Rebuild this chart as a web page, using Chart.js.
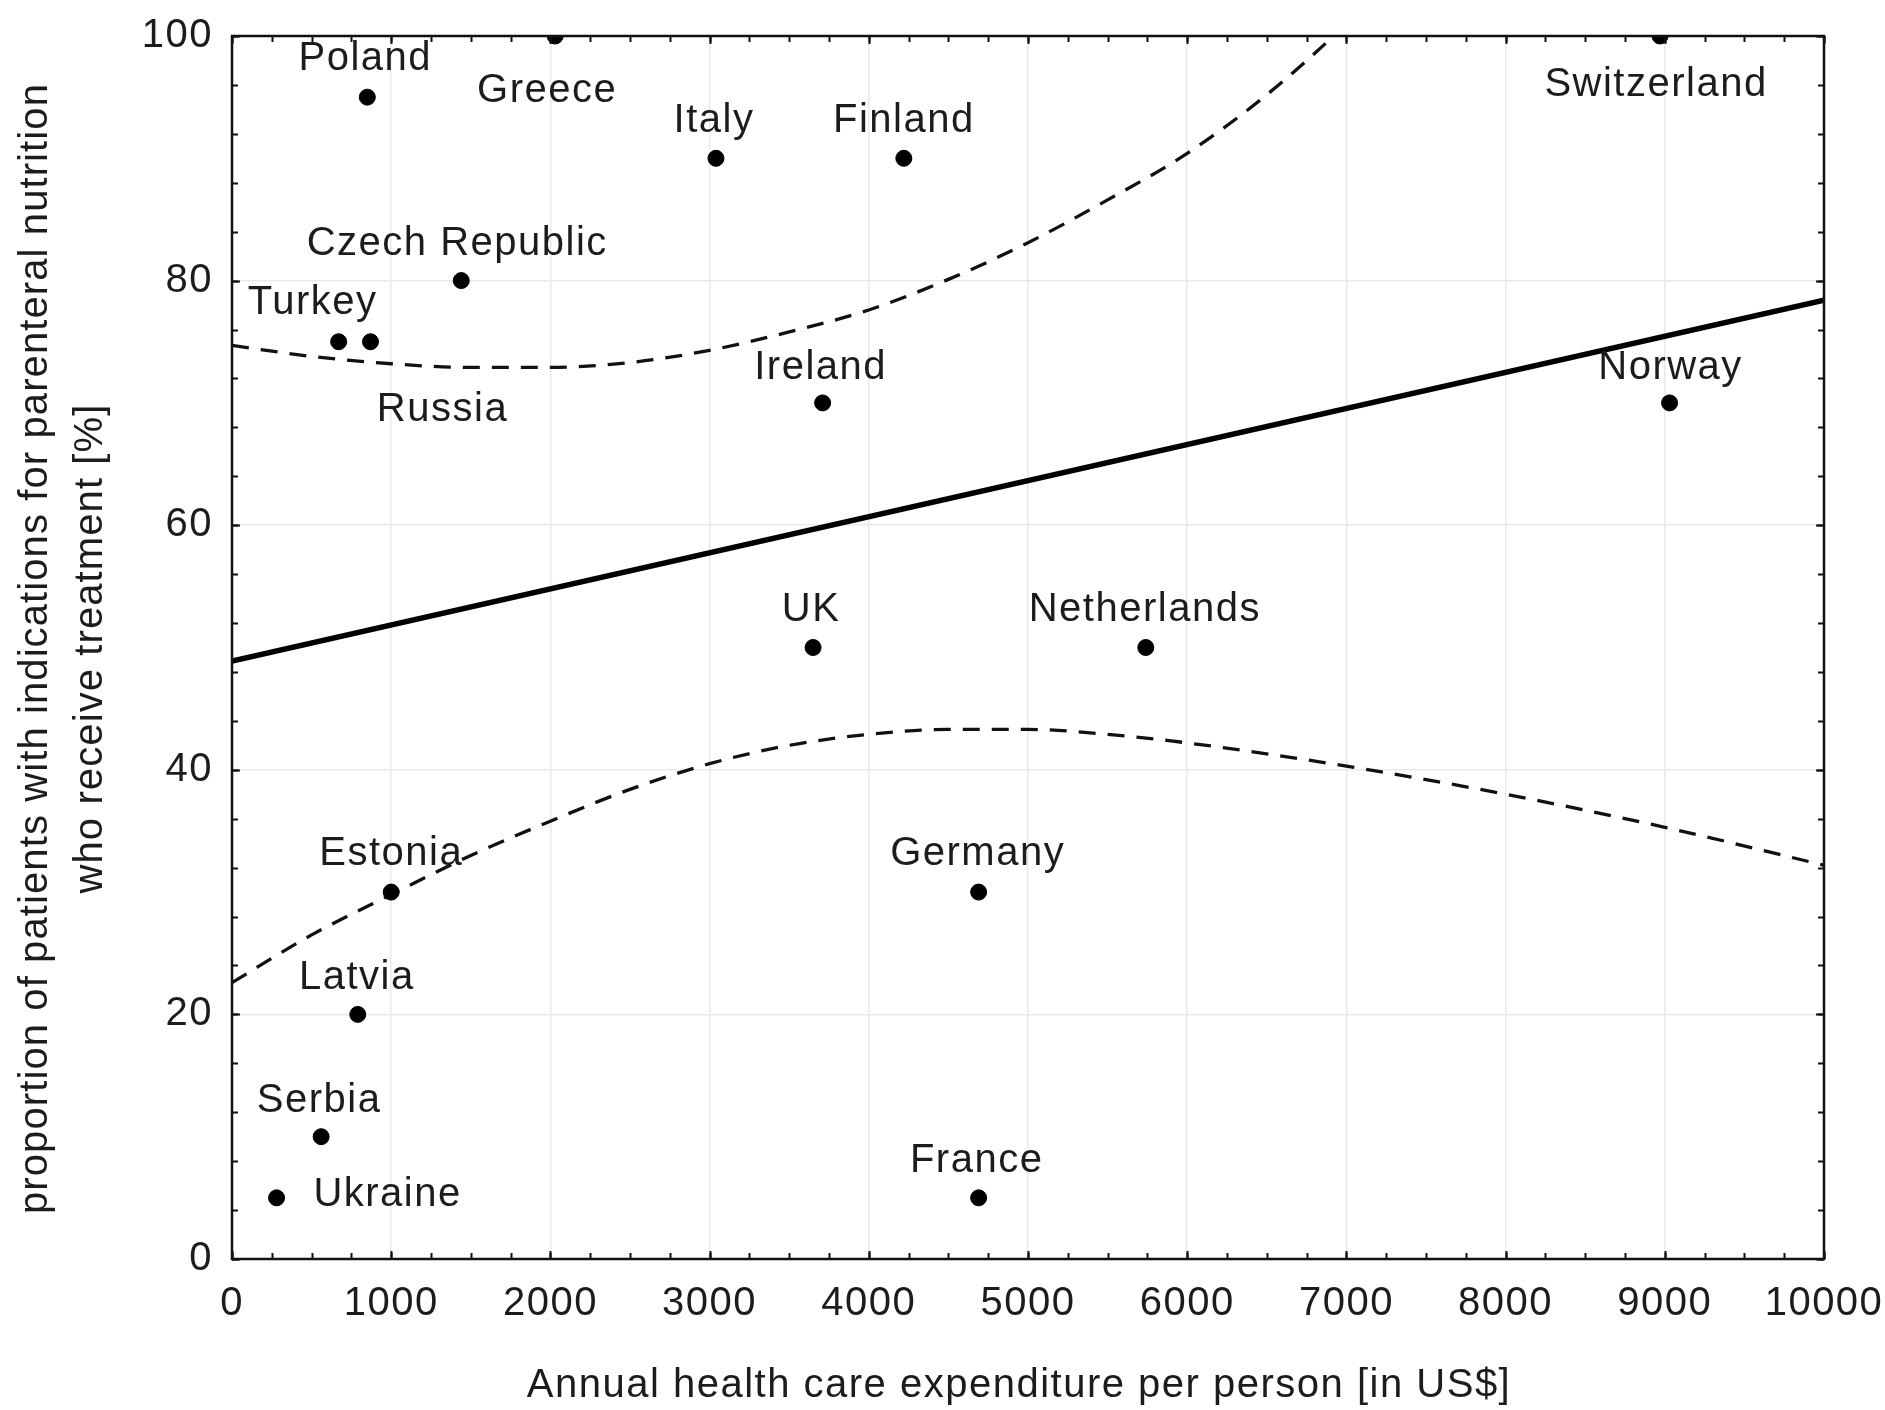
<!DOCTYPE html>
<html>
<head>
<meta charset="utf-8">
<title>Parenteral nutrition vs health care expenditure</title>
<script src="https://cdn.jsdelivr.net/npm/chart.js@4.4.1/dist/chart.umd.min.js"></script>
<style>
  html, body { margin: 0; padding: 0; background: #ffffff; }
  #wrap { width: 1885px; height: 1410px; }
</style>
</head>
<body>
<div id="wrap"><canvas id="chart" width="1885" height="1410"></canvas></div>
<script>
// Country observations
const countries = ['Poland', 'Greece', 'Italy', 'Finland', 'Switzerland', 'Czech Republic',
  'Turkey', 'Russia', 'Ireland', 'Norway', 'UK', 'Netherlands', 'Estonia', 'Germany',
  'Latvia', 'Serbia', 'Ukraine', 'France'];
const spending = [850, 2030, 3040, 4220, 8970, 1440, 670, 870, 3710, 9030, 3650, 5740,
  1000, 4690, 790, 560, 280, 4690];
const treatedPct = [95, 100, 90, 90, 100, 80, 75, 75, 70, 70, 50, 50, 30, 30, 20, 10, 5, 5];

// Linear fit and its confidence band
const fitX = [0, 10000];
const fitY = [48.9, 78.4];
const upperX = [0, 500, 1000, 1500, 2000, 2500, 3000, 3500, 4000, 4500, 5000, 5500, 6000, 6500, 7000, 7300];
const upperY = [74.7, 73.8, 73.2, 72.9, 72.9, 73.3, 74.3, 75.8, 77.6, 80.1, 83.1, 86.6, 90.4, 95.2, 101, 105];
const lowerX = [0, 500, 1000, 1500, 2000, 2500, 3000, 3500, 4000, 4500, 5000, 5500, 6000, 7000, 8000, 9000, 10000];
const lowerY = [22.6, 26.5, 29.8, 33.0, 35.8, 38.4, 40.5, 42.0, 42.9, 43.3, 43.3, 42.9, 42.2, 40.3, 38.0, 35.3, 32.2];

// Axes
const xTicks = [0, 1000, 2000, 3000, 4000, 5000, 6000, 7000, 8000, 9000, 10000];
const yTicks = [0, 20, 40, 60, 80, 100];
const xTitle = 'Annual health care expenditure per person [in US$]';
const yTitle = ['proportion of patients with indications for parenteral nutrition',
  'who receive treatment [%]'];

// Where each country name sits relative to its dot (pixels)
const labelOffsets = [[-2, -38], [-8, 55], [-2, -37], [0, -37], [-4, 49], [-4, -37],
  [-26, -39], [72, 68], [-2, -35], [1, -35], [-2, -38], [-1, -38], [0, -38], [-1, -38],
  [-1, -36], [-2, -36], [111, -3], [-2, -37]];

const FONT = '"Liberation Sans", Arial, Helvetica, sans-serif';
const TEXT = '#1c1c1c';

const toXY = (xs, ys) => xs.map((x, i) => ({ x: x, y: ys[i] }));

// Slightly open lettering for every text item on the canvas
const textSpacing = {
  id: 'textSpacing',
  beforeDraw(chart) {
    if ('letterSpacing' in chart.ctx) chart.ctx.letterSpacing = '1.5px';
  }
};

const frameAndTicks = {
  id: 'frameAndTicks',
  afterDatasetsDraw(chart) {
    const { ctx, chartArea: a, scales } = chart;
    const xs = scales.x, ys = scales.y;
    ctx.save();
    ctx.strokeStyle = '#111';
    ctx.lineWidth = 2;
    const tick = (len, minorX, minorY) => {
      for (let v = xs.min; v <= xs.max + 1e-9; v += minorX) {
        const px = Math.round(xs.getPixelForValue(v)) + 0.5;
        ctx.beginPath();
        ctx.moveTo(px, a.bottom); ctx.lineTo(px, a.bottom - len);
        ctx.moveTo(px, a.top); ctx.lineTo(px, a.top + len);
        ctx.stroke();
      }
      for (let v = ys.min; v <= ys.max + 1e-9; v += minorY) {
        const py = Math.round(ys.getPixelForValue(v)) + 0.5;
        ctx.beginPath();
        ctx.moveTo(a.left, py); ctx.lineTo(a.left + len, py);
        ctx.moveTo(a.right, py); ctx.lineTo(a.right - len, py);
        ctx.stroke();
      }
    };
    tick(6, 250, 4);
    tick(8, 1000, 20);
    ctx.lineWidth = 2.5;
    ctx.strokeRect(a.left, a.top, a.right - a.left, a.bottom - a.top);
    ctx.restore();
  }
};

const countryLabels = {
  id: 'countryLabels',
  afterDatasetsDraw(chart) {
    const { ctx } = chart;
    const xs = chart.scales.x, ys = chart.scales.y;
    ctx.save();
    ctx.font = '40px ' + FONT;
    ctx.fillStyle = TEXT;
    ctx.textAlign = 'center';
    ctx.textBaseline = 'middle';
    if ('letterSpacing' in ctx) ctx.letterSpacing = '1.5px';
    countries.forEach((name, i) => {
      const px = xs.getPixelForValue(spending[i]) + labelOffsets[i][0];
      const py = ys.getPixelForValue(treatedPct[i]) + labelOffsets[i][1];
      ctx.fillText(name, px, py);
    });
    ctx.restore();
  }
};

const axisTitles = {
  id: 'axisTitles',
  afterDraw(chart) {
    const { ctx, chartArea: a } = chart;
    ctx.save();
    ctx.font = '40px ' + FONT;
    ctx.fillStyle = TEXT;
    ctx.textAlign = 'center';
    ctx.textBaseline = 'middle';
    if ('letterSpacing' in ctx) ctx.letterSpacing = '1.5px';
    ctx.fillText(xTitle, (a.left + a.right) / 2 - 9, 1386);
    ctx.translate(0, (a.top + a.bottom) / 2 + 1);
    ctx.rotate(-Math.PI / 2);
    if ('letterSpacing' in ctx) ctx.letterSpacing = '1.1px';
    ctx.fillText(yTitle[0], 0, 36);
    ctx.fillText(yTitle[1], 0, 91);
    ctx.restore();
  }
};

new Chart(document.getElementById('chart'), {
  type: 'scatter',
  data: {
    datasets: [
      {
        label: 'Countries',
        data: toXY(spending, treatedPct),
        backgroundColor: '#000',
        borderColor: '#000',
        pointRadius: 8,
        pointHoverRadius: 8,
        clip: 0,
        order: 0
      },
      {
        label: 'Linear fit',
        data: toXY(fitX, fitY),
        showLine: true,
        borderColor: '#000',
        borderWidth: 5.5,
        pointRadius: 0,
        clip: 0,
        order: 1
      },
      {
        label: 'Upper confidence limit',
        data: toXY(upperX, upperY),
        showLine: true,
        borderColor: '#111',
        borderWidth: 3.3,
        borderDash: [17, 12],
        pointRadius: 0,
        cubicInterpolationMode: 'monotone',
        clip: 0,
        order: 2
      },
      {
        label: 'Lower confidence limit',
        data: toXY(lowerX, lowerY),
        showLine: true,
        borderColor: '#111',
        borderWidth: 3.3,
        borderDash: [17, 12],
        pointRadius: 0,
        cubicInterpolationMode: 'monotone',
        clip: 0,
        order: 2
      }
    ]
  },
  options: {
    responsive: false,
    animation: false,
    devicePixelRatio: 1,
    events: [],
    layout: { padding: { left: 0, top: 36, right: 61, bottom: 0 } },
    plugins: { legend: { display: false }, tooltip: { enabled: false } },
    scales: {
      x: {
        type: 'linear',
        min: xTicks[0],
        max: xTicks[xTicks.length - 1],
        afterBuildTicks: s => { s.ticks = xTicks.map(v => ({ value: v })); },
        afterFit: s => { s.height = 151; s.paddingLeft = 0; s.paddingRight = 0; },
        border: { display: false },
        grid: { color: '#e9e9e9', lineWidth: 1.5, drawTicks: false },
        ticks: {
          padding: 21,
          color: TEXT,
          font: { family: FONT, size: 40 },
          maxRotation: 0,
          callback: v => String(v)
        }
      },
      y: {
        type: 'linear',
        min: yTicks[0],
        max: yTicks[yTicks.length - 1],
        afterBuildTicks: s => { s.ticks = yTicks.map(v => ({ value: v })); },
        afterFit: s => { s.width = 232; s.paddingTop = 0; s.paddingBottom = 0; },
        border: { display: false },
        grid: { color: '#e9e9e9', lineWidth: 1.5, drawTicks: false },
        ticks: {
          padding: 19,
          color: TEXT,
          font: { family: FONT, size: 40 },
          callback: v => String(v)
        }
      }
    }
  },
  plugins: [textSpacing, frameAndTicks, countryLabels, axisTitles]
});
</script>
</body>
</html>
